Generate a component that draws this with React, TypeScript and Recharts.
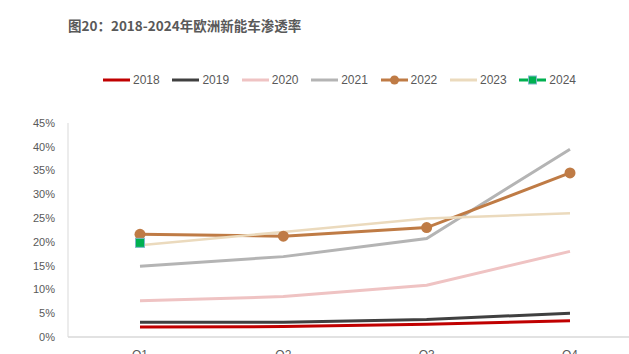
import { Line, LineChart, XAxis, YAxis } from 'recharts';

const quarters = ['Q1', 'Q2', 'Q3', 'Q4'];
const years = ['2018', '2019', '2020', '2021', '2022', '2023', '2024'];

const v2018 = [0.021, 0.022, 0.027, 0.034];
const v2019 = [0.031, 0.031, 0.037, 0.05];
const v2020 = [0.076, 0.085, 0.109, 0.18];
const v2021 = [0.149, 0.169, 0.207, 0.395];
const v2022 = [0.216, 0.212, 0.23, 0.345];
const v2023 = [0.193, 0.221, 0.249, 0.26];
const v2024 = [0.198, null, null, null];

const yTicks = [0, 0.05, 0.1, 0.15, 0.2, 0.25, 0.3, 0.35, 0.4, 0.45];

const seriesValues = [v2018, v2019, v2020, v2021, v2022, v2023, v2024];

const colors: Record<string, string> = {
  '2018': '#C00000',
  '2019': '#404040',
  '2020': '#EFC3C3',
  '2021': '#B4B4B4',
  '2022': '#BF7B45',
  '2023': '#EBDABD',
  '2024': '#00B050',
};

const widths: Record<string, number> = {
  '2018': 3,
  '2019': 3,
  '2020': 3,
  '2021': 3,
  '2022': 3,
  '2023': 2.5,
  '2024': 3,
};

const data = quarters.map((q, i) => {
  const row: Record<string, string | number | null> = { q };
  years.forEach((y, s) => {
    row[y] = seriesValues[s][i];
  });
  return row;
});

const textColor = '#595959';

function SquareDot(props: { cx?: number; cy?: number; value?: number | null }) {
  const { cx, cy, value } = props;
  if (value == null || cx == null || cy == null) return null;
  return (
    <rect x={cx - 4.5} y={cy - 4.5} width={9} height={9} fill="#00B050" stroke="#7FB7C9" strokeWidth={1} />
  );
}

function LegendIcon({ year }: { year: string }) {
  const c = colors[year];
  return (
    <svg width={29} height={10} style={{ display: 'block' }}>
      <line x1={0} y1={5} x2={27} y2={5} stroke={c} strokeWidth={3} />
      {year === '2022' && <circle cx={13.5} cy={5} r={4.5} fill={c} />}
      {year === '2024' && (
        <rect x={9.5} y={1} width={8} height={8} fill={c} stroke="#7FB7C9" strokeWidth={1} />
      )}
    </svg>
  );
}

export default function App() {
  return (
    <div
      style={{
        position: 'absolute',
        left: 0,
        top: 0,
        width: 629,
        height: 354,
        overflow: 'hidden',
        background: '#fff',
        fontFamily: '"Liberation Sans", Arial, sans-serif',
      }}
    >
      <div
        style={{
          position: 'absolute',
          left: 68,
          top: 15,
          lineHeight: '20px',
          fontSize: 13.5,
          fontWeight: 'bold',
          color: textColor,
          fontFamily: '"Noto Sans CJK SC", sans-serif',
          whiteSpace: 'nowrap',
        }}
      >
        图20：2018-2024年欧洲新能车渗透率
      </div>
      <div style={{ position: 'absolute', left: 103, top: 72, display: 'flex' }}>
        {years.map((y) => (
          <div key={y} style={{ width: 69.4, display: 'flex', alignItems: 'center', height: 16 }}>
            <LegendIcon year={y} />
            <span style={{ fontSize: 12, color: textColor, marginLeft: 1 }}>{y}</span>
          </div>
        ))}
      </div>
      <div style={{ position: 'absolute', left: 0, top: 0 }}>
        <LineChart
          width={660}
          height={380}
          data={data}
          margin={{ top: 123, right: 18, bottom: 13, left: 8 }}
        >
          <XAxis
            dataKey="q"
            height={30}
            padding={{ left: 72, right: 72 }}
            axisLine={{ stroke: '#D9D9D9', strokeWidth: 1.5 }}
            tickLine={false}
            tickMargin={7}
            tick={{ fill: textColor, fontSize: 12 }}
          />
          <YAxis
            width={60}
            domain={[0, 0.45]}
            ticks={yTicks}
            interval={0}
            tickFormatter={(v: number) => `${Math.round(v * 100)}%`}
            axisLine={{ stroke: '#D9D9D9', strokeWidth: 1 }}
            tickLine={false}
            tickMargin={7}
            tick={{ fill: textColor, fontSize: 11 }}
          />
          {years.map((y) => (
            <Line
              key={y}
              dataKey={y}
              type="linear"
              stroke={colors[y]}
              strokeWidth={widths[y]}
              isAnimationActive={false}
              connectNulls={false}
              dot={
                y === '2022'
                  ? { r: 5.5, fill: colors[y], stroke: colors[y], strokeWidth: 0 }
                  : y === '2024'
                    ? (p: any) => <SquareDot key={`sq-${p.index}`} cx={p.cx} cy={p.cy} value={p.value} />
                    : false
              }
              activeDot={false}
            />
          ))}
        </LineChart>
      </div>
    </div>
  );
}
